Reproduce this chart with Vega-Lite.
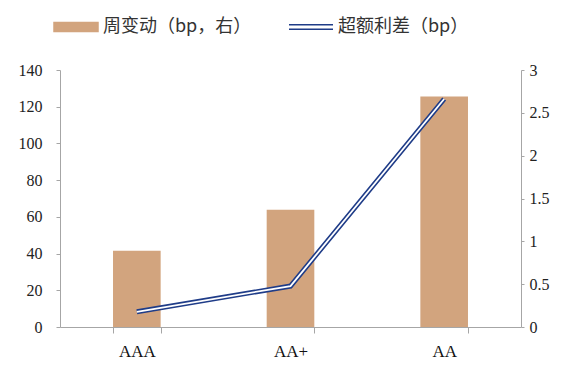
{
  "$schema": "https://vega.github.io/schema/vega-lite/v6.json",
  "width": 461,
  "height": 257,
  "autosize": {"type": "none"},
  "padding": {"left": 60, "top": 70, "right": 52, "bottom": 42},
  "background": "white",
  "config": {"view": {"stroke": null}, "font": "Liberation Serif", "axis": {"labelFont": "Liberation Serif"}},
  "data": {"values": [
    {"rating": "AAA", "change": 0.89, "spread": 8.3},
    {"rating": "AA+", "change": 1.37, "spread": 22.3},
    {"rating": "AA", "change": 2.69, "spread": 124.2}
  ]},
  "encoding": {
    "x": {
      "field": "rating", "type": "nominal", "sort": null,
      "scale": {"paddingInner": 0.69, "paddingOuter": 0.345},
      "axis": {"title": null, "labelAngle": 0, "domainColor": "#A6A6A6", "tickColor": "#A6A6A6", "tickBand": "extent", "tickSize": 6, "labelFont": "Liberation Serif", "labelFontSize": 17, "labelColor": "#111111", "labelPadding": 10}
    }
  },
  "layer": [
    {
      "mark": {"type": "bar"},
      "encoding": {
        "y": {"field": "change", "type": "quantitative", "scale": {"domain": [0, 3]},
          "axis": {"orient": "right", "title": null, "values": [0, 0.5, 1, 1.5, 2, 2.5, 3], "format": "~g", "grid": false, "domainColor": "#A6A6A6", "tickColor": "#A6A6A6", "tickSize": 3, "labelFont": "Liberation Serif", "labelFontSize": 16, "labelColor": "#222222", "labelPadding": 5}},
        "color": {"datum": "周变动（bp，右）", "type": "nominal",
          "scale": {"domain": ["周变动（bp，右）", "超额利差（bp）"], "range": ["#D2A47E", "#1F3C88"]},
          "legend": {"orient": "none", "legendX": -7, "legendY": -66, "direction": "horizontal", "title": null, "labelFont": "Noto Sans CJK SC", "labelFontSize": 18, "labelColor": "#333333", "symbolSize": 1936, "columnPadding": 34, "labelOffset": 4,
            "encode": {"symbols": {"update": {
              "shape": {"signal": "datum.value === '周变动（bp，右）' ? 'M-1,-0.2H1V0.2H-1Z' : 'M-1,-0.1H1M-1,0.1H1'"},
              "fill": {"signal": "datum.value === '周变动（bp，右）' ? '#D2A47E' : 'transparent'"},
              "stroke": {"signal": "datum.value === '周变动（bp，右）' ? 'transparent' : '#1F3C88'"},
              "strokeWidth": {"value": 1.5},
              "fillOpacity": {"value": 1},
              "strokeOpacity": {"value": 1},
              "opacity": {"value": 1}
            }}}}
        }
      }
    },
    {
      "encoding": {
        "y": {"field": "spread", "type": "quantitative", "scale": {"domain": [0, 140]},
          "axis": {"orient": "left", "title": null, "values": [0, 20, 40, 60, 80, 100, 120, 140], "grid": false, "domainColor": "#A6A6A6", "tickColor": "#A6A6A6", "tickSize": 4, "labelFont": "Liberation Serif", "labelFontSize": 16, "labelColor": "#222222", "labelPadding": 14}}
      },
      "layer": [
        {
          "mark": {"type": "line", "strokeWidth": 5, "strokeJoin": "miter"},
          "encoding": {
            "color": {"datum": "超额利差（bp）", "type": "nominal",
              "legend": {"orient": "none", "legendX": -7, "legendY": -66, "direction": "horizontal", "title": null, "labelFont": "Noto Sans CJK SC", "labelFontSize": 18, "labelColor": "#333333", "symbolSize": 1936, "columnPadding": 34, "labelOffset": 4,
                "encode": {"symbols": {"update": {
                  "shape": {"signal": "datum.value === '周变动（bp，右）' ? 'M-1,-0.2H1V0.2H-1Z' : 'M-1,-0.1H1M-1,0.1H1'"},
                  "fill": {"signal": "datum.value === '周变动（bp，右）' ? '#D2A47E' : 'transparent'"},
                  "stroke": {"signal": "datum.value === '周变动（bp，右）' ? 'transparent' : '#1F3C88'"},
                  "strokeWidth": {"value": 1.5},
                  "fillOpacity": {"value": 1},
                  "strokeOpacity": {"value": 1},
                  "opacity": {"value": 1}
                }}}}}
          }
        },
        {
          "mark": {"type": "line", "strokeWidth": 1.8, "color": "#ffffff", "strokeJoin": "miter"},
          "encoding": {}
        }
      ]
    }
  ],
  "resolve": {"scale": {"y": "independent"}}
}
